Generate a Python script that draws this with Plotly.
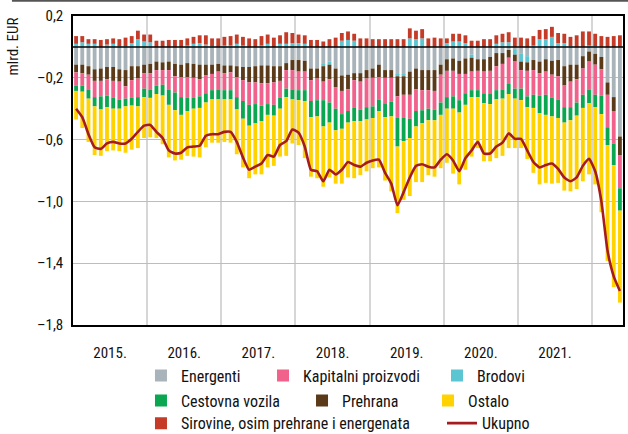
import plotly.graph_objects as go

years = ["2015.", "2016.", "2017.", "2018.", "2019.", "2020.", "2021."]
months = list(range(89))  # Jan 2015 .. May 2022

sirovine = [.05,.04,.03,.03,.045,.035,.035,.045,.055,.045,.055,.045,
            .05,.04,.04,.045,.045,.045,.045,.045,.05,.06,.05,.055,
            .055,.06,.06,.055,.055,.05,.06,.06,.06,.055,.075,.065,
            .055,.055,.045,.045,.035,.05,.06,.05,.055,.045,.055,.055,
            .05,.05,.05,.05,.05,.05,.065,.055,.06,.055,.06,.055,
            .03,.05,.05,.05,.04,.04,.05,.05,.055,.055,.065,.06,
            .06,.055,.06,.06,.065,.065,.065,.06,.06,.075,.10,.09,
            .08,.07,.065,.07,.075]
brodovi = [.02,.03,.02,.02,0,.015,.02,.005,.005,.025,.05,.035,
           .03,0,0,0,0,0,.01,.02,.025,.015,.005,0,
           .01,.01,.02,.01,0,0,.01,.02,0,.02,.02,.025,
           .025,.02,0,0,-.01,-.02,0,.04,.045,.04,0,0,
           0,0,0,0,-.01,-.01,.055,.05,.055,0,0,0,
           .025,.035,.035,.025,-.02,0,0,0,.02,.03,.03,-.03,
           -.05,-.04,.01,.05,.05,.065,.025,.025,.005,0,0,.01,
           .005,0,0,0,0]
energenti = [.115,.115,.125,.145,.14,.13,.13,.145,.15,.125,.125,.115,
             .11,.095,.10,.095,.11,.115,.105,.11,.115,.115,.115,.11,
             .12,.12,.125,.13,.13,.125,.12,.12,.125,.125,.105,.085,
             .085,.09,.14,.14,.115,.095,.14,.185,.18,.17,.17,.15,
             .14,.115,.15,.15,.18,.18,.16,.14,.15,.15,.15,.115,
             .08,.075,.09,.075,.05,.08,.08,.065,.04,.04,.02,.02,
             .045,.06,.085,.095,.08,.09,.085,.125,.115,.115,.06,.03,
             .045,.065,.23,.325,.58]
prehrana = [.05,.055,.055,.075,.08,.08,.09,.08,.105,.09,.08,.055,
            .06,.055,.05,.055,.08,.08,.09,.09,.095,.07,.06,.05,
            .05,.045,.07,.085,.10,.105,.115,.115,.105,.095,.045,.065,
            .075,.07,.075,.065,.10,.095,.12,.10,.095,.045,.055,.055,
            .06,.08,.05,.05,.13,.12,.15,.135,.13,.13,.135,.065,
            .075,.08,.085,.10,.09,.075,.08,.09,.085,.07,.05,.045,
            .055,.055,.065,.075,.08,.09,.105,.125,.11,.095,.08,.065,
            .07,.08,.08,.09,.12]
kapitalni = [.085,.08,.095,.105,.10,.105,.11,.115,.08,.115,.12,.10,
             .105,.10,.095,.125,.105,.13,.135,.13,.11,.115,.105,.115,
             .11,.115,.13,.135,.145,.14,.145,.135,.145,.11,.12,.125,
             .12,.12,.135,.14,.12,.15,.14,.15,.14,.18,.18,.185,
             .185,.145,.165,.155,.14,.15,.155,.14,.13,.12,.12,.18,
             .17,.165,.17,.125,.12,.125,.14,.15,.155,.165,.17,.175,
             .12,.165,.16,.145,.15,.15,.15,.14,.165,.15,.17,.18,
             .195,.17,.21,.21,.215]
cestovna = [.035,.04,.06,.06,.085,.075,.07,.06,.05,.05,.06,.055,
            .055,.055,.07,.10,.115,.115,.085,.07,.075,.06,.06,.065,
            .06,.06,.08,.115,.135,.125,.10,.07,.07,.07,.055,.065,
            .065,.07,.105,.105,.17,.13,.14,.095,.075,.085,.075,.08,
            .075,.075,.09,.095,.185,.15,.125,.10,.085,.075,.07,.08,
            .075,.08,.08,.075,.045,.045,.065,.065,.06,.06,.065,.065,
            .075,.07,.085,.115,.13,.12,.12,.10,.085,.085,.085,.09,
            .08,.12,.115,.14,.145]
ostalo = [.185,.235,.28,.315,.30,.285,.27,.275,.30,.285,.27,.265,
          .255,.285,.315,.34,.325,.29,.29,.31,.32,.29,.28,.28,
          .275,.28,.29,.315,.34,.33,.345,.34,.325,.31,.38,.285,
          .29,.37,.385,.40,.39,.355,.345,.355,.355,.37,.35,.335,
          .325,.365,.41,.485,.43,.38,.375,.36,.38,.355,.365,.345,
          .35,.42,.465,.42,.385,.33,.375,.37,.38,.37,.35,.32,
          .31,.335,.42,.46,.44,.435,.42,.44,.46,.475,.475,.46,
          .50,.635,.75,.79,.595]

for arr in (sirovine, brodovi, energenti, prehrana, kapitalni, cestovna, ostalo):
    assert len(arr) == len(months), len(arr)

ukupno = [round(s + b - e - p - k - c - o, 4) for s, b, e, p, k, c, o in
          zip(sirovine, brodovi, energenti, prehrana, kapitalni, cestovna, ostalo)]

FONT = "Liberation Sans Narrow, Arial Narrow, Roboto Condensed, Arial, sans-serif"

C_EN = "#A9B4BA"
C_KAP = "#F0618C"
C_BRO = "#5BC5D1"
C_CES = "#0BA750"
C_PRE = "#5A3A18"
C_OST = "#FFD200"
C_SIR = "#C63B27"
C_UK = "#A51C20"

fig = go.Figure()

def bar(name, vals, color, neg, legend):
    fig.add_trace(go.Bar(x=months, y=[-v for v in vals] if neg else vals,
                         name=name, marker=dict(color=color, line=dict(width=0)),
                         legend=legend))

bar("Energenti", energenti, C_EN, True, "legend")
bar("Brodovi", brodovi, C_BRO, False, "legend3")
bar("Prehrana", prehrana, C_PRE, True, "legend5")
bar("Kapitalni proizvodi", kapitalni, C_KAP, True, "legend2")
bar("Cestovna vozila", cestovna, C_CES, True, "legend4")
bar("Ostalo", ostalo, C_OST, True, "legend6")
bar("Sirovine, osim prehrane i energenata", sirovine, C_SIR, False, "legend7")

fig.add_trace(go.Scatter(x=months, y=ukupno, mode="lines", name="Ukupno",
                         line=dict(color=C_UK, width=2.6, shape="spline", smoothing=0.5),
                         legend="legend8"))

year_centers = [5.5 + 12 * i for i in range(len(years))]
year_bounds = [11.5 + 12 * i for i in range(7)]

def leg(x, y):
    return dict(orientation="v", xanchor="left", yanchor="top", x=x, y=y,
                font=dict(family=FONT, size=16, color="#111"),
                bgcolor="rgba(0,0,0,0)", itemwidth=30)

R1, R2, R3 = -0.109, -0.190, -0.263

fig.update_layout(
    width=628, height=434,
    margin=dict(l=73, r=5, t=16, b=109, autoexpand=False),
    barmode="relative", bargap=0.38,
    plot_bgcolor="white", paper_bgcolor="white",
    font=dict(family=FONT, size=15, color="#111"),
    showlegend=True,
    legend=leg(0.1236, R1),
    legend2=leg(0.3455, R1),
    legend3=leg(0.6618, R1),
    legend4=leg(0.1236, R2),
    legend5=leg(0.4164, R2),
    legend6=leg(0.6455, R2),
    legend7=leg(0.1236, R3),
    legend8=leg(0.6709, R3),
    xaxis=dict(range=[-0.5, 88.5], tickvals=year_centers, ticktext=years,
               showgrid=False, ticks="outside", ticklen=13, tickcolor="rgba(0,0,0,0)",
               showline=True, linecolor="black", linewidth=1.5,
               mirror=True, zeroline=False, tickfont=dict(family=FONT, size=15),
               minor=dict(tickvals=year_bounds, showgrid=True, gridcolor="#D6D6D6",
                          gridwidth=2, ticks="")),
    yaxis=dict(range=[-1.8, 0.2], tickvals=[0.2, -0.2, -0.6, -1.0, -1.4, -1.8],
               ticktext=["0,2", "\u20130,2", "\u20130,6", "\u20131,0", "\u20131,4", "\u20131,8"],
               showgrid=True, gridcolor="#BDBDBD", gridwidth=1, zeroline=False,
               showline=True, linecolor="black", linewidth=1.5, mirror=True,
               ticks="outside", ticklen=5, tickcolor="rgba(0,0,0,0)",
               tickfont=dict(family=FONT, size=15)),
)

fig.add_shape(type="line", xref="paper", yref="y", x0=0, x1=1, y0=0, y1=0,
              line=dict(color="black", width=1.5), layer="above")
fig.add_shape(type="line", xref="paper", yref="paper", x0=-0.111, x1=1.01, y0=1.049, y1=1.049,
              line=dict(color="#555555", width=2))

fig.add_annotation(text="mlrd. EUR", textangle=-90, xref="paper", yref="paper",
                   x=-0.11, y=1.0, xanchor="center", yanchor="top", showarrow=False,
                   font=dict(family=FONT, size=15, color="#111"))

fig.write_html("out.html", config={"displayModeBar": False},
               post_script="document.body.style.margin='0';document.body.style.overflow='hidden';")
